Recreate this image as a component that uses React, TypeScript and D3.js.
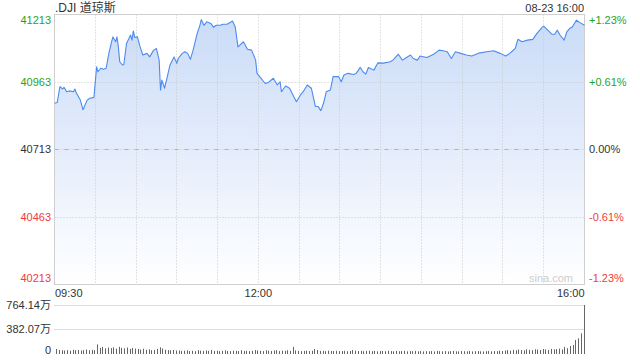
import React from "react";
import * as d3 from "d3";

// ---- data ----
const title = ".DJI 道琼斯";
const stamp = "08-23 16:00";
const priceTicks = [41213, 40963, 40713, 40463, 40213];
const pctTicks = ["+1.23%", "+0.61%", "0.00%", "-0.61%", "-1.23%"];
const prevClose = 40713;
const timeLabels = ["09:30", "12:00", "16:00"];
const sessionMinutes = 390;
const volTicks = ["764.14万", "382.07万", "0"];
const volMax = 764.14;

// minutes after 09:30
const priceTimes = [
  0, 2, 4, 6, 7, 9, 11, 14, 15, 16, 19, 21, 24, 26, 29, 31, 32, 34, 36, 38,
  40, 42, 43, 45, 46, 47, 48, 50, 51, 53, 56, 57, 58, 59, 61, 63, 65, 68, 70, 73,
  75, 77, 78, 79, 81, 83, 85, 88, 90, 91, 94, 96, 98, 100, 102, 105, 107, 108, 110, 112,
  115, 117, 119, 122, 124, 127, 131, 133, 135, 139, 142, 145, 148, 149, 151, 154, 155, 157, 161, 164,
  166, 167, 170, 173, 176, 178, 181, 183, 186, 189, 192, 194, 196, 198, 200, 203, 205, 209, 211, 213,
  216, 220, 222, 225, 227, 229, 231, 235, 238, 242, 247, 249, 253, 256, 259, 262, 264, 267, 269, 274,
  279, 283, 286, 289, 292, 295, 299, 303, 307, 313, 318, 323, 328, 332, 335, 339, 341, 344, 348, 352,
  355, 359, 360, 363, 366, 368, 370, 372, 375, 377, 379, 381, 384, 387, 390,
];
const priceValues = [
  40884, 40887, 40946, 40937, 40943, 40927, 40930, 40927, 40937, 40923, 40896, 40860, 40896, 40903, 40906, 41019, 41001, 41014, 41010, 41014,
  41069, 41112, 41130, 41112, 41130, 41093, 41038, 41026, 41028, 41106, 41137, 41118, 41152, 41128, 41130, 41093, 41063, 41069, 41056, 41081,
  41087, 41044, 40933, 40970, 40940, 40983, 41026, 41056, 41032, 41050, 41069, 41075, 41069, 41047, 41081, 41143, 41173, 41194, 41173, 41186,
  41180, 41166, 41173, 41173, 41177, 41177, 41189, 41167, 41093, 41112, 41084, 41081, 41044, 40995, 40983, 40964, 40958, 40960, 40977, 40952,
  40964, 40927, 40948, 40940, 40909, 40890, 40915, 40927, 40952, 40940, 40872, 40872, 40857, 40885, 40927, 40933, 40983, 40983, 40964, 40989,
  40995, 40991, 40995, 41017, 41001, 40992, 41017, 41007, 41034, 41033, 41038, 41044, 41066, 41044, 41054, 41063, 41050, 41044, 41059, 41054,
  41066, 41081, 41079, 41075, 41050, 41075, 41069, 41063, 41059, 41071, 41075, 41079, 41069, 41059, 41069, 41087, 41121, 41112, 41118, 41121,
  41143, 41166, 41170, 41155, 41140, 41140, 41155, 41137, 41118, 41149, 41161, 41167, 41192, 41182, 41173,
];

// volume (万), one bar per two minutes from 09:32 to 16:00
const volStep = 2;
const volumes = [
  78, 62, 58, 55, 60, 52, 66, 58, 62, 55, 60, 70, 58, 64, 60,
  150, 95, 110, 88, 100, 92, 105, 84, 112, 96, 88, 102, 80, 94, 85,
  78, 70, 82, 66, 72, 60, 64, 80, 104, 86, 66, 60, 58, 62, 55,
  55, 48, 52, 58, 46, 50, 44, 60, 52, 48, 55, 50, 62, 48, 52, 45, 50, 56, 48, 44, 52, 50, 46, 58, 48, 52, 44, 50, 62, 55,
  50, 45, 58, 52, 48, 55, 60, 46, 52, 50, 58, 48, 112, 56, 50, 44, 48, 52, 46, 50, 78, 62, 48, 50, 44, 52, 48, 46, 50, 45,
  46, 50, 44, 48, 62, 52, 46, 50, 44, 48, 52, 45, 50, 42, 46, 48, 44, 50, 46, 42, 48, 44, 46, 50, 42, 46, 44, 48, 42, 46,
  40, 44, 42, 46, 40, 48, 44, 42, 46, 40, 44, 48, 42, 40, 46, 44, 42, 48, 40, 44, 46, 42, 40, 44, 48, 42, 46, 44, 50, 46,
  55, 60, 52, 64, 58, 70, 62, 56, 72, 66, 60, 74, 68, 62, 78, 70, 64, 80, 72, 76,
  84, 70, 110, 90, 125, 140, 218, 245, 323, 764.14,
];

// ---- layout ----
const W = 640;
const H = 360;
const L = 54.5;
const R = 584.5;
const T = 14.5;
const B = 284.5;
const VT = 305;
const VB = 354;

const FONT = "'Liberation Sans', Arial, 'Noto Sans CJK SC', sans-serif";
const GREEN = "#1fa51f";
const RED = "#f23b3b";
const DARK = "#333";

export default function App() {
  const x = d3.scaleLinear().domain([0, sessionMinutes]).range([L, R]);
  const y = d3.scaleLinear().domain([priceTicks[priceTicks.length - 1], priceTicks[0]]).range([B, T]);
  const yv = d3.scaleLinear().domain([0, volMax]).range([VB, VT]);

  const pts = priceTimes.map((t, i) => [t, priceValues[i]] as [number, number]);
  const line = d3.line<[number, number]>().x((d) => x(d[0])).y((d) => y(d[1]));
  const area = d3
    .area<[number, number]>()
    .x((d) => x(d[0]))
    .y0(B)
    .y1((d) => y(d[1]));

  const vTicks = d3.range(30, sessionMinutes, 30);
  const snap = (v: number) => Math.round(v - 0.5) + 0.5;
  const colorFor = (i: number) => (i < 2 ? GREEN : i === 2 ? DARK : RED);
  const labelY = (i: number) => {
    const yy = y(priceTicks[i]);
    if (i === 0) return yy + 6;
    if (i === priceTicks.length - 1) return yy - 6;
    return yy;
  };

  return (
    <svg
      width={W}
      height={H}
      style={{ position: "absolute", left: 0, top: 0, display: "block", background: "#fff" }}
      fontFamily={FONT}
    >
      <defs>
        <linearGradient id="fillg" gradientUnits="userSpaceOnUse" x1="0" y1={T} x2="0" y2={B}>
          <stop offset="0%" stopColor="#c9dbf7" />
          <stop offset="45%" stopColor="#e2ebfb" />
          <stop offset="100%" stopColor="#ffffff" />
        </linearGradient>
      </defs>

      <path d={area(pts) || ""} fill="url(#fillg)" />

      {/* grid */}
      {vTicks.map((t) => (
        <line key={"v" + t} x1={snap(x(t))} x2={snap(x(t))} y1={T} y2={B} stroke="#c8c8c8" strokeDasharray="1,2" />
      ))}
      {priceTicks.slice(1, -1).map((p) => (
        <line key={"h" + p} x1={L} x2={R} y1={snap(y(p))} y2={snap(y(p))} stroke="#c8c8c8" strokeDasharray="1,2" />
      ))}
      <line x1={L} x2={R} y1={snap(y(prevClose))} y2={snap(y(prevClose))} stroke="#e8a17f" strokeDasharray="4,6" />

      <rect x={L} y={T} width={R - L} height={B - T} fill="none" stroke="#cfcfcf" />

      <path d={line(pts) || ""} fill="none" stroke="#4b8bf0" strokeWidth={1.1} strokeLinejoin="round" />

      {/* watermark */}
      <text x={573} y={282} fontSize={11} fill="#cccccc" textAnchor="end">sina.com</text>

      {/* title */}
      <text x={55} y={12} fontSize={12} fill={DARK}>{title}</text>
      <text x={584} y={12} fontSize={11} fill={DARK} textAnchor="end">{stamp}</text>

      {/* price labels */}
      {priceTicks.map((p, i) => (
        <text key={"pl" + p} x={51} y={labelY(i)} dy="0.35em" fontSize={11} fill={colorFor(i)} textAnchor="end">
          {p}
        </text>
      ))}
      {pctTicks.map((s, i) => (
        <text key={"pr" + s} x={589} y={labelY(i)} dy="0.35em" fontSize={11} fill={colorFor(i)}>
          {s}
        </text>
      ))}

      {/* time labels */}
      <text x={55} y={297} fontSize={11} fill={DARK}>{timeLabels[0]}</text>
      <text x={x(150)} y={297} fontSize={11} fill={DARK} textAnchor="middle">{timeLabels[1]}</text>
      <text x={R} y={297} fontSize={11} fill={DARK} textAnchor="end">{timeLabels[2]}</text>

      {/* volume panel */}
      <line x1={L} x2={R} y1={snap(yv(volMax))} y2={snap(yv(volMax))} stroke="#bbb" strokeDasharray="1,1" />
      <line x1={L} x2={R} y1={snap(yv(volMax / 2))} y2={snap(yv(volMax / 2))} stroke="#bbb" strokeDasharray="1,1" />
      {volumes.map((v, i) => {
        const t = (i + 1) * volStep;
        const xx = Math.round(x(t)) - 0.5;
        return <line key={"b" + i} x1={xx} x2={xx} y1={VB} y2={yv(v)} stroke="#666" strokeWidth={1} />;
      })}
      <text x={51} y={yv(volMax)} dy="0.35em" fontSize={11} fill={DARK} textAnchor="end">{volTicks[0]}</text>
      <text x={51} y={yv(volMax / 2)} dy="0.35em" fontSize={11} fill={DARK} textAnchor="end">{volTicks[1]}</text>
      <text x={51} y={VB - 4} dy="0.35em" fontSize={11} fill={DARK} textAnchor="end">{volTicks[2]}</text>
    </svg>
  );
}
